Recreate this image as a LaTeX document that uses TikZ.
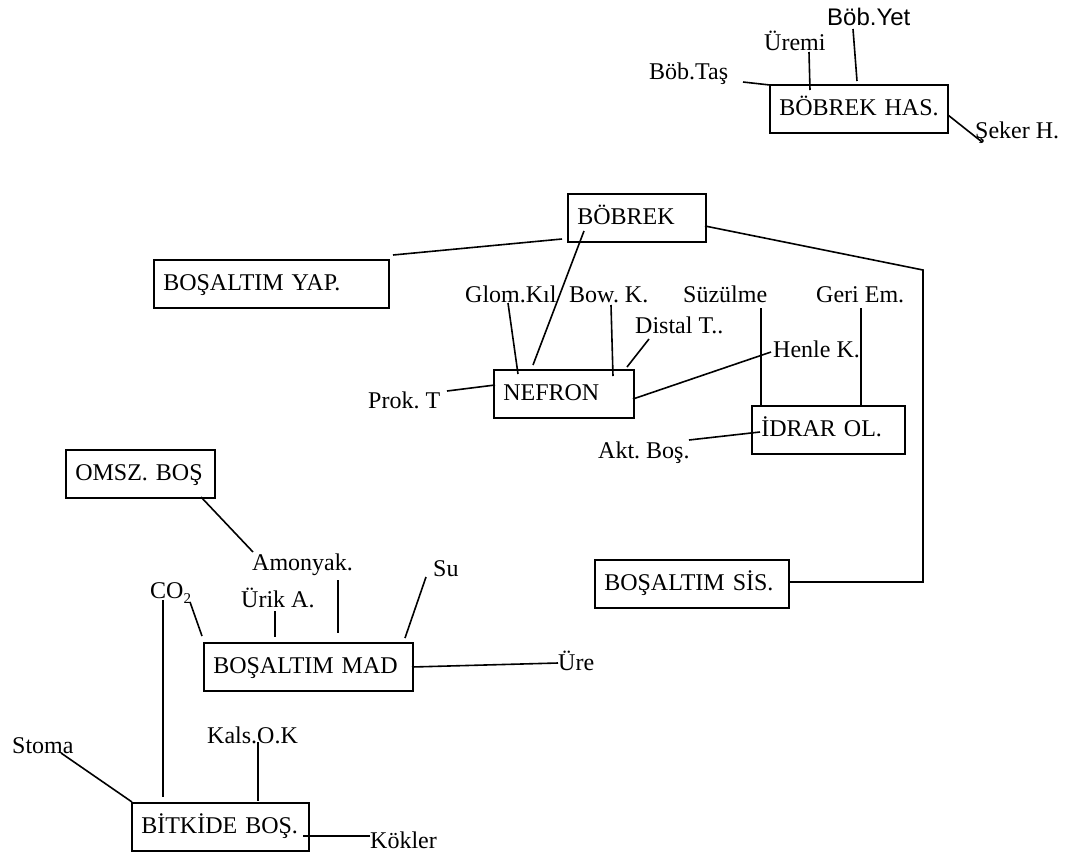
\documentclass[tikz,border=0pt]{standalone}
\usepackage{fontspec}
\setmainfont{Liberation Serif}
\newfontfamily\sansfont{Liberation Sans}
\begin{document}
\frenchspacing
\begin{tikzpicture}[x=1pt,y=-1pt,
  font=\fontsize{24}{28}\selectfont\frenchspacing,
  box/.style={draw, line width=1.6pt, anchor=north west, inner xsep=9.5pt,
    inner ysep=0pt, text height=18pt, text depth=4pt, minimum height=48pt, align=left},
  lbl/.style={anchor=base west, inner sep=0pt},
  link/.style={line width=1.6pt}]
\useasboundingbox (0,0) rectangle (1069,855);

% ---------- boxes ----------
\node[box, text width=159pt] (has)    at (769,84)  {\mbox{BÖBREK HAS.}};
\node[box, text width=119pt] (bobrek) at (567,193) {\mbox{BÖBREK}};
\node[box, text width=216pt] (yap)    at (153,259) {\mbox{BOŞALTIM YAP.}};
\node[box, text width=121pt] (nefron) at (493,369) {\mbox{NEFRON}};
\node[box, text width=134pt] (idrar)  at (751,405) {\mbox{İDRAR OL.}};
\node[box, text width=175pt] (sis)    at (594,559) {\mbox{BOŞALTIM SİS.}};
\node[box, text width=130pt] (omsz)   at (65,449)  {\mbox{OMSZ. BOŞ}};
\node[box, text width=190pt] (mad)    at (203,642) {\mbox{BOŞALTIM MAD}};
\node[box, text width=158pt] (bitki)  at (131,802) {\mbox{BİTKİDE BOŞ.}};

% ---------- labels ----------
\node[lbl, font=\sansfont\fontsize{24}{28}\selectfont] (yet) at (827,25) {Böb.Yet};
\node[lbl] (uremi)  at (764,50)  {Üremi};
\node[lbl] (tas)    at (649,79)  {Böb.Taş};
\node[lbl] (seker)  at (975,138) {Şeker H.};
\node[lbl] (glom)   at (465,302) {Glom.Kıl};
\node[lbl] (bow)    at (569,302) {Bow. K.};
\node[lbl] (suz)    at (683,302) {Süzülme};
\node[lbl] (geri)   at (816,302) {Geri Em.};
\node[lbl] (distal) at (635,333) {Distal T..};
\node[lbl] (henle)  at (773,357) {Henle K.};
\node[lbl] (prok)   at (368,408) {Prok. T};
\node[lbl] (akt)    at (598,458) {Akt. Boş.};
\node[lbl] (amon)   at (252,570) {Amonyak.};
\node[lbl] (su)     at (433,576) {Su};
\node[lbl] (urik)   at (241,607) {Ürik A.};
\node[lbl] (co)     at (150,598) {CO\raisebox{-5pt}{\fontsize{15}{15}\selectfont 2}};
\node[lbl] (ure)    at (558,670) {Üre};
\node[lbl] (kals)   at (207,743) {Kals.O.K};
\node[lbl] (stoma)  at (12,753)  {Stoma};
\node[lbl] (kok)    at (370,848) {Kökler};

% ---------- connector end points ----------
\coordinate (tasA) at (743,82);   \coordinate (tasB) at (770,85);
\coordinate (uremiA) at (809,52); \coordinate (uremiB) at (810,90);
\coordinate (yetA) at (853,29);   \coordinate (yetB) at (857,81);
\coordinate (sekerA) at (948,115);\coordinate (sekerB) at (982,142);
\coordinate (bobL) at (562,239);  \coordinate (yapR) at (393,255);
\coordinate (bobR) at (705,226);  \coordinate (turn1) at (923,270);
\coordinate (turn2) at (923,582); \coordinate (sisR) at (788,582);
\coordinate (glomA) at (508,303); \coordinate (glomB) at (518,374);
\coordinate (bobN) at (584,231);  \coordinate (nefT) at (533,365);
\coordinate (bowA) at (611,305);  \coordinate (bowB) at (613,376);
\coordinate (distA) at (649,339); \coordinate (distB) at (627,367);
\coordinate (suzA) at (761,308);  \coordinate (suzB) at (761,405);
\coordinate (geriA) at (861,308); \coordinate (geriB) at (861,405);
\coordinate (henA) at (771,352);  \coordinate (henB) at (633,399);
\coordinate (prokA) at (447,391); \coordinate (prokB) at (495,385);
\coordinate (aktA) at (689,440);  \coordinate (aktB) at (760,432);
\coordinate (omszB) at (201,497); \coordinate (amonA) at (253,552);
\coordinate (amonB) at (338,580); \coordinate (amonC) at (338,633);
\coordinate (suA) at (426,577);   \coordinate (suB) at (405,638);
\coordinate (urikA) at (275,611); \coordinate (urikB) at (275,637);
\coordinate (coA) at (190,602);   \coordinate (coB) at (202,636);
\coordinate (coC) at (163,600);   \coordinate (coD) at (163,797);
\coordinate (madR) at (412,667);  \coordinate (ureL) at (558,663);
\coordinate (kalsA) at (258,742); \coordinate (kalsB) at (258,801);
\coordinate (stomaA) at (61,753); \coordinate (stomaB) at (132,802);
\coordinate (kokA) at (303,836);  \coordinate (kokB) at (370,836);

% ---------- connectors ----------
\draw[link] (tasA) -- (tasB);
\draw[link] (uremiA) -- (uremiB);
\draw[link] (yetA) -- (yetB);
\draw[link] (sekerA) -- (sekerB);
\draw[link] (bobL) -- (yapR);
\draw[link] (bobR) -- (turn1) -- (turn2) -- (sisR);
\draw[link] (glomA) -- (glomB);
\draw[link] (bobN) -- (nefT);
\draw[link] (bowA) -- (bowB);
\draw[link] (distA) -- (distB);
\draw[link] (suzA) -- (suzB);
\draw[link] (geriA) -- (geriB);
\draw[link] (henA) -- (henB);
\draw[link] (prokA) -- (prokB);
\draw[link] (aktA) -- (aktB);
\draw[link] (omszB) -- (amonA);
\draw[link] (amonB) -- (amonC);
\draw[link] (suA) -- (suB);
\draw[link] (urikA) -- (urikB);
\draw[link] (coA) -- (coB);
\draw[link] (coC) -- (coD);
\draw[link] (madR) -- (ureL);
\draw[link] (kalsA) -- (kalsB);
\draw[link] (stomaA) -- (stomaB);
\draw[link] (kokA) -- (kokB);
\end{tikzpicture}
\end{document}
